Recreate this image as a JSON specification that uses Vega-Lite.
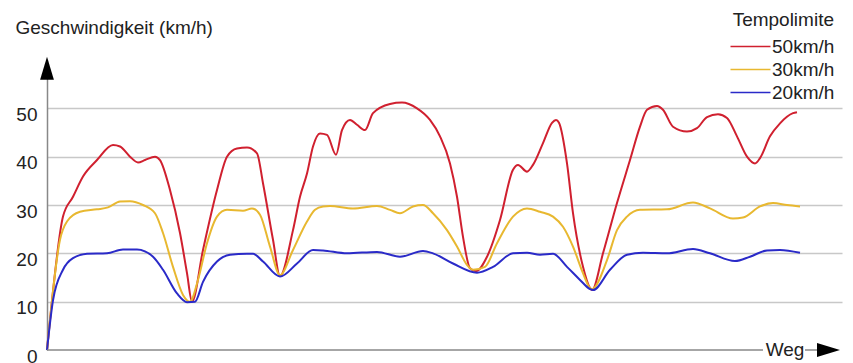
{
  "$schema": "https://vega.github.io/schema/vega-lite/v6.json",
  "width": 795,
  "height": 290,
  "autosize": {"type": "none"},
  "padding": {"left": 47, "top": 60, "right": 11, "bottom": 13},
  "background": "white",
  "config": {"font": "Liberation Sans", "view": {"stroke": null}},
  "datasets": {
    "speed": [
      {"limit": "50km/h", "weg": 0, "kmh": 0},
      {"limit": "50km/h", "weg": 3, "kmh": 6.2},
      {"limit": "50km/h", "weg": 16, "kmh": 27.6},
      {"limit": "50km/h", "weg": 26, "kmh": 31.7},
      {"limit": "50km/h", "weg": 36, "kmh": 35.9},
      {"limit": "50km/h", "weg": 50, "kmh": 39.3},
      {"limit": "50km/h", "weg": 66, "kmh": 42.4},
      {"limit": "50km/h", "weg": 73, "kmh": 42.1},
      {"limit": "50km/h", "weg": 83, "kmh": 40.0},
      {"limit": "50km/h", "weg": 91, "kmh": 38.8},
      {"limit": "50km/h", "weg": 98, "kmh": 39.3},
      {"limit": "50km/h", "weg": 108, "kmh": 40.0},
      {"limit": "50km/h", "weg": 113, "kmh": 39.3},
      {"limit": "50km/h", "weg": 123, "kmh": 33.1},
      {"limit": "50km/h", "weg": 133, "kmh": 24.2},
      {"limit": "50km/h", "weg": 140, "kmh": 15.9},
      {"limit": "50km/h", "weg": 145, "kmh": 10.0},
      {"limit": "50km/h", "weg": 156, "kmh": 20.7},
      {"limit": "50km/h", "weg": 170, "kmh": 33.1},
      {"limit": "50km/h", "weg": 180, "kmh": 40.0},
      {"limit": "50km/h", "weg": 190, "kmh": 41.7},
      {"limit": "50km/h", "weg": 200, "kmh": 41.9},
      {"limit": "50km/h", "weg": 210, "kmh": 40.7},
      {"limit": "50km/h", "weg": 216, "kmh": 34.5},
      {"limit": "50km/h", "weg": 226, "kmh": 22.8},
      {"limit": "50km/h", "weg": 233, "kmh": 15.3},
      {"limit": "50km/h", "weg": 246, "kmh": 24.8},
      {"limit": "50km/h", "weg": 253, "kmh": 31.7},
      {"limit": "50km/h", "weg": 260, "kmh": 36.5},
      {"limit": "50km/h", "weg": 266, "kmh": 42.1},
      {"limit": "50km/h", "weg": 273, "kmh": 44.8},
      {"limit": "50km/h", "weg": 280, "kmh": 44.5},
      {"limit": "50km/h", "weg": 289, "kmh": 40.4},
      {"limit": "50km/h", "weg": 295, "kmh": 45.5},
      {"limit": "50km/h", "weg": 303, "kmh": 47.6},
      {"limit": "50km/h", "weg": 310, "kmh": 46.6},
      {"limit": "50km/h", "weg": 318, "kmh": 45.5},
      {"limit": "50km/h", "weg": 326, "kmh": 49.0},
      {"limit": "50km/h", "weg": 343, "kmh": 50.9},
      {"limit": "50km/h", "weg": 355, "kmh": 51.2},
      {"limit": "50km/h", "weg": 370, "kmh": 50.0},
      {"limit": "50km/h", "weg": 383, "kmh": 47.6},
      {"limit": "50km/h", "weg": 393, "kmh": 44.2},
      {"limit": "50km/h", "weg": 403, "kmh": 38.6},
      {"limit": "50km/h", "weg": 410, "kmh": 31.7},
      {"limit": "50km/h", "weg": 416, "kmh": 23.4},
      {"limit": "50km/h", "weg": 423, "kmh": 16.9},
      {"limit": "50km/h", "weg": 429, "kmh": 16.3},
      {"limit": "50km/h", "weg": 440, "kmh": 19.3},
      {"limit": "50km/h", "weg": 453, "kmh": 26.9},
      {"limit": "50km/h", "weg": 466, "kmh": 37.3},
      {"limit": "50km/h", "weg": 471, "kmh": 38.3},
      {"limit": "50km/h", "weg": 480, "kmh": 36.9},
      {"limit": "50km/h", "weg": 486, "kmh": 38.3},
      {"limit": "50km/h", "weg": 496, "kmh": 42.8},
      {"limit": "50km/h", "weg": 505, "kmh": 47.0},
      {"limit": "50km/h", "weg": 509, "kmh": 47.6},
      {"limit": "50km/h", "weg": 512, "kmh": 47.0},
      {"limit": "50km/h", "weg": 520, "kmh": 38.6},
      {"limit": "50km/h", "weg": 526, "kmh": 28.3},
      {"limit": "50km/h", "weg": 536, "kmh": 17.2},
      {"limit": "50km/h", "weg": 543, "kmh": 12.8},
      {"limit": "50km/h", "weg": 545, "kmh": 12.4},
      {"limit": "50km/h", "weg": 556, "kmh": 20.0},
      {"limit": "50km/h", "weg": 570, "kmh": 30.4},
      {"limit": "50km/h", "weg": 583, "kmh": 39.3},
      {"limit": "50km/h", "weg": 593, "kmh": 46.2},
      {"limit": "50km/h", "weg": 600, "kmh": 49.7},
      {"limit": "50km/h", "weg": 610, "kmh": 50.5},
      {"limit": "50km/h", "weg": 616, "kmh": 49.7},
      {"limit": "50km/h", "weg": 626, "kmh": 46.2},
      {"limit": "50km/h", "weg": 640, "kmh": 45.2},
      {"limit": "50km/h", "weg": 650, "kmh": 45.9},
      {"limit": "50km/h", "weg": 660, "kmh": 48.2},
      {"limit": "50km/h", "weg": 671, "kmh": 48.8},
      {"limit": "50km/h", "weg": 680, "kmh": 48.0},
      {"limit": "50km/h", "weg": 690, "kmh": 44.2},
      {"limit": "50km/h", "weg": 700, "kmh": 40.0},
      {"limit": "50km/h", "weg": 708, "kmh": 38.6},
      {"limit": "50km/h", "weg": 713, "kmh": 39.7},
      {"limit": "50km/h", "weg": 723, "kmh": 44.2},
      {"limit": "50km/h", "weg": 733, "kmh": 46.9},
      {"limit": "50km/h", "weg": 746, "kmh": 49.0},
      {"limit": "50km/h", "weg": 750, "kmh": 49.2},

      {"limit": "30km/h", "weg": 0, "kmh": 0},
      {"limit": "30km/h", "weg": 13, "kmh": 22.8},
      {"limit": "30km/h", "weg": 20, "kmh": 26.6},
      {"limit": "30km/h", "weg": 33, "kmh": 28.6},
      {"limit": "30km/h", "weg": 50, "kmh": 29.1},
      {"limit": "30km/h", "weg": 61, "kmh": 29.5},
      {"limit": "30km/h", "weg": 73, "kmh": 30.7},
      {"limit": "30km/h", "weg": 83, "kmh": 30.8},
      {"limit": "30km/h", "weg": 96, "kmh": 30.0},
      {"limit": "30km/h", "weg": 108, "kmh": 28.3},
      {"limit": "30km/h", "weg": 116, "kmh": 24.2},
      {"limit": "30km/h", "weg": 126, "kmh": 17.2},
      {"limit": "30km/h", "weg": 136, "kmh": 11.4},
      {"limit": "30km/h", "weg": 143, "kmh": 10.0},
      {"limit": "30km/h", "weg": 151, "kmh": 14.5},
      {"limit": "30km/h", "weg": 160, "kmh": 22.1},
      {"limit": "30km/h", "weg": 170, "kmh": 27.6},
      {"limit": "30km/h", "weg": 180, "kmh": 29.0},
      {"limit": "30km/h", "weg": 196, "kmh": 28.8},
      {"limit": "30km/h", "weg": 205, "kmh": 29.3},
      {"limit": "30km/h", "weg": 213, "kmh": 28.0},
      {"limit": "30km/h", "weg": 223, "kmh": 21.4},
      {"limit": "30km/h", "weg": 233, "kmh": 15.5},
      {"limit": "30km/h", "weg": 246, "kmh": 20.7},
      {"limit": "30km/h", "weg": 260, "kmh": 26.6},
      {"limit": "30km/h", "weg": 268, "kmh": 29.0},
      {"limit": "30km/h", "weg": 276, "kmh": 29.7},
      {"limit": "30km/h", "weg": 283, "kmh": 29.8},
      {"limit": "30km/h", "weg": 306, "kmh": 29.3},
      {"limit": "30km/h", "weg": 330, "kmh": 29.8},
      {"limit": "30km/h", "weg": 343, "kmh": 29.0},
      {"limit": "30km/h", "weg": 353, "kmh": 28.3},
      {"limit": "30km/h", "weg": 366, "kmh": 29.7},
      {"limit": "30km/h", "weg": 376, "kmh": 30.0},
      {"limit": "30km/h", "weg": 386, "kmh": 28.3},
      {"limit": "30km/h", "weg": 400, "kmh": 24.8},
      {"limit": "30km/h", "weg": 410, "kmh": 21.4},
      {"limit": "30km/h", "weg": 420, "kmh": 17.6},
      {"limit": "30km/h", "weg": 426, "kmh": 16.6},
      {"limit": "30km/h", "weg": 438, "kmh": 17.2},
      {"limit": "30km/h", "weg": 450, "kmh": 22.1},
      {"limit": "30km/h", "weg": 466, "kmh": 27.6},
      {"limit": "30km/h", "weg": 480, "kmh": 29.3},
      {"limit": "30km/h", "weg": 493, "kmh": 28.6},
      {"limit": "30km/h", "weg": 506, "kmh": 27.6},
      {"limit": "30km/h", "weg": 516, "kmh": 25.5},
      {"limit": "30km/h", "weg": 526, "kmh": 21.4},
      {"limit": "30km/h", "weg": 536, "kmh": 15.9},
      {"limit": "30km/h", "weg": 543, "kmh": 12.8},
      {"limit": "30km/h", "weg": 545, "kmh": 12.6},
      {"limit": "30km/h", "weg": 560, "kmh": 18.6},
      {"limit": "30km/h", "weg": 570, "kmh": 24.8},
      {"limit": "30km/h", "weg": 580, "kmh": 27.6},
      {"limit": "30km/h", "weg": 593, "kmh": 29.0},
      {"limit": "30km/h", "weg": 620, "kmh": 29.1},
      {"limit": "30km/h", "weg": 646, "kmh": 30.5},
      {"limit": "30km/h", "weg": 663, "kmh": 29.3},
      {"limit": "30km/h", "weg": 686, "kmh": 27.2},
      {"limit": "30km/h", "weg": 696, "kmh": 27.4},
      {"limit": "30km/h", "weg": 713, "kmh": 29.7},
      {"limit": "30km/h", "weg": 726, "kmh": 30.4},
      {"limit": "30km/h", "weg": 740, "kmh": 30.0},
      {"limit": "30km/h", "weg": 753, "kmh": 29.7},

      {"limit": "20km/h", "weg": 0, "kmh": 0},
      {"limit": "20km/h", "weg": 6, "kmh": 10.3},
      {"limit": "20km/h", "weg": 16, "kmh": 16.6},
      {"limit": "20km/h", "weg": 26, "kmh": 19.0},
      {"limit": "20km/h", "weg": 40, "kmh": 19.9},
      {"limit": "20km/h", "weg": 60, "kmh": 20.0},
      {"limit": "20km/h", "weg": 76, "kmh": 20.8},
      {"limit": "20km/h", "weg": 90, "kmh": 20.8},
      {"limit": "20km/h", "weg": 106, "kmh": 19.3},
      {"limit": "20km/h", "weg": 116, "kmh": 16.6},
      {"limit": "20km/h", "weg": 130, "kmh": 11.7},
      {"limit": "20km/h", "weg": 140, "kmh": 9.9},
      {"limit": "20km/h", "weg": 148, "kmh": 10.0},
      {"limit": "20km/h", "weg": 156, "kmh": 14.1},
      {"limit": "20km/h", "weg": 170, "kmh": 18.3},
      {"limit": "20km/h", "weg": 183, "kmh": 19.7},
      {"limit": "20km/h", "weg": 200, "kmh": 19.9},
      {"limit": "20km/h", "weg": 206, "kmh": 19.9},
      {"limit": "20km/h", "weg": 216, "kmh": 18.3},
      {"limit": "20km/h", "weg": 233, "kmh": 15.2},
      {"limit": "20km/h", "weg": 250, "kmh": 17.9},
      {"limit": "20km/h", "weg": 266, "kmh": 20.7},
      {"limit": "20km/h", "weg": 276, "kmh": 20.6},
      {"limit": "20km/h", "weg": 300, "kmh": 20.0},
      {"limit": "20km/h", "weg": 330, "kmh": 20.3},
      {"limit": "20km/h", "weg": 353, "kmh": 19.3},
      {"limit": "20km/h", "weg": 376, "kmh": 20.5},
      {"limit": "20km/h", "weg": 386, "kmh": 20.0},
      {"limit": "20km/h", "weg": 406, "kmh": 17.9},
      {"limit": "20km/h", "weg": 430, "kmh": 16.0},
      {"limit": "20km/h", "weg": 446, "kmh": 17.2},
      {"limit": "20km/h", "weg": 466, "kmh": 20.0},
      {"limit": "20km/h", "weg": 480, "kmh": 20.1},
      {"limit": "20km/h", "weg": 493, "kmh": 19.7},
      {"limit": "20km/h", "weg": 506, "kmh": 19.9},
      {"limit": "20km/h", "weg": 520, "kmh": 17.2},
      {"limit": "20km/h", "weg": 533, "kmh": 14.5},
      {"limit": "20km/h", "weg": 543, "kmh": 12.6},
      {"limit": "20km/h", "weg": 546, "kmh": 12.4},
      {"limit": "20km/h", "weg": 563, "kmh": 16.6},
      {"limit": "20km/h", "weg": 580, "kmh": 19.7},
      {"limit": "20km/h", "weg": 596, "kmh": 20.1},
      {"limit": "20km/h", "weg": 620, "kmh": 20.0},
      {"limit": "20km/h", "weg": 646, "kmh": 20.9},
      {"limit": "20km/h", "weg": 663, "kmh": 20.0},
      {"limit": "20km/h", "weg": 688, "kmh": 18.4},
      {"limit": "20km/h", "weg": 703, "kmh": 19.3},
      {"limit": "20km/h", "weg": 720, "kmh": 20.6},
      {"limit": "20km/h", "weg": 733, "kmh": 20.7},
      {"limit": "20km/h", "weg": 753, "kmh": 20.1}
    ]
  },
  "layer": [
    {
      "data": {"name": "speed"},
      "mark": {"type": "line", "interpolate": "monotone", "strokeWidth": 2},
      "encoding": {
        "x": {"field": "weg", "type": "quantitative", "scale": {"domain": [0, 795], "nice": false, "zero": false}, "axis": null},
        "y": {
          "field": "kmh", "type": "quantitative",
          "scale": {"domain": [0, 60], "nice": false},
          "axis": {
            "values": [0, 10, 20, 30, 40, 50],
            "title": "Geschwindigkeit (km/h)",
            "titleAngle": 0, "titleAlign": "left", "titleBaseline": "alphabetic",
            "titleX": -32, "titleY": -27,
            "titleFontSize": 19, "titleFontWeight": "normal", "titleColor": "#222",
            "labelFontSize": 19, "labelColor": "#222", "labelPadding": 10, "labelOffset": 6,
            "ticks": false,
            "domainColor": "#888", "domainWidth": 1.5,
            "grid": true,
            "gridColor": {"condition": {"test": "datum.value === 0", "value": "rgba(0,0,0,0)"}, "value": "#c8c8c8"},
            "gridWidth": 1.5
          }
        },
        "color": {
          "field": "limit", "type": "nominal",
          "scale": {"domain": ["50km/h", "30km/h", "20km/h"], "range": ["#d0202f", "#e8b830", "#2a2ac8"]},
          "legend": {
            "title": "Tempolimite", "orient": "none", "legendX": 686, "legendY": -49,
            "titleFontSize": 19, "titleFontWeight": "normal", "titleColor": "#222", "titleAnchor": "end", "titlePadding": 7,
            "labelFontSize": 19, "labelColor": "#222", "labelOffset": 0,
            "symbolType": "M-4,0H1", "symbolSize": 256, "symbolStrokeWidth": 1.5,
            "rowPadding": 3, "padding": 0
          }
        }
      }
    },
    {
      "data": {"values": [{}]},
      "mark": {"type": "rule", "color": "#888", "strokeWidth": 1.5},
      "encoding": {"x": {"datum": 0}, "x2": {"datum": 716}, "y": {"datum": 0}}
    },
    {
      "data": {"values": [{}]},
      "mark": {"type": "rule", "color": "#888", "strokeWidth": 1.5},
      "encoding": {"x": {"datum": 758}, "x2": {"datum": 776}, "y": {"datum": 0}}
    },
    {
      "data": {"values": [{}]},
      "mark": {"type": "text", "text": "Weg", "fontSize": 19, "align": "center", "baseline": "middle", "color": "#222"},
      "encoding": {"x": {"datum": 738}, "y": {"datum": 0}}
    },
    {
      "data": {"values": [{}]},
      "mark": {"type": "point", "shape": "M1,0L-1,-0.6L-1,0.6Z", "size": 529, "filled": true, "color": "black", "opacity": 1},
      "encoding": {"x": {"datum": 781.5}, "y": {"datum": 0}}
    },
    {
      "data": {"values": [{}]},
      "mark": {"type": "point", "shape": "M0,-1L0.6,1L-0.6,1Z", "size": 529, "filled": true, "color": "black", "opacity": 1},
      "encoding": {"x": {"datum": 0}, "y": {"datum": 58.3}}
    }
  ]
}
